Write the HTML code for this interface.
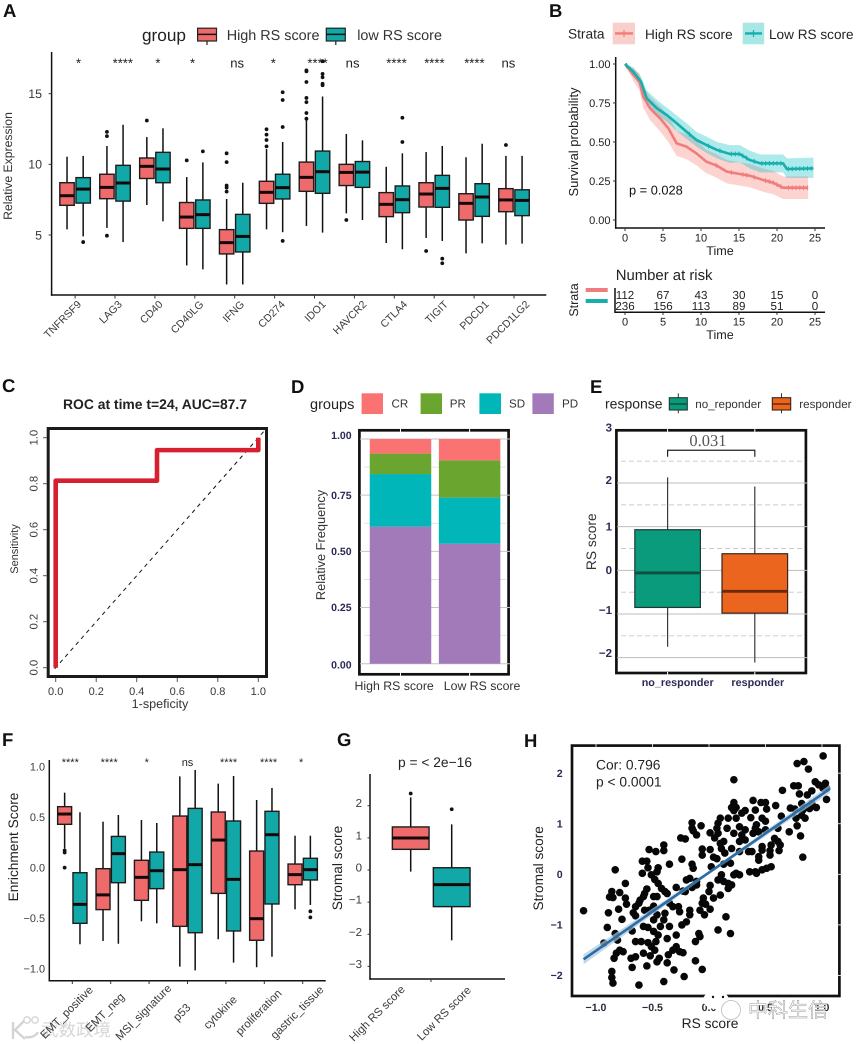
<!DOCTYPE html>
<html lang="en">
<head>
<meta charset="utf-8">
<title>RS score multi-panel figure</title>
<style>
html,body{margin:0;padding:0;background:#fff;}
svg{display:block;font-family:"Liberation Sans","Noto Sans CJK SC",sans-serif;text-rendering:geometricPrecision;}
.pl{font-size:18.5px;font-weight:bold;fill:#111;}
</style>
</head>
<body>
<svg id="fig" xmlns="http://www.w3.org/2000/svg" width="858" height="1044" viewBox="0 0 858 1044">
<rect x="0" y="0" width="858" height="1044" fill="#fff"/>

<text class="pl" x="3" y="17">A</text>
<text class="pl" x="549" y="17">B</text>
<text class="pl" x="2" y="392">C</text>
<text class="pl" x="291" y="393">D</text>
<text class="pl" x="590" y="393">E</text>
<text class="pl" x="2" y="746">F</text>
<text class="pl" x="337" y="746">G</text>
<text class="pl" x="524" y="747">H</text>

<!-- Watermark bottom-left sits under the F labels -->
<g>
  <path d="M13 1022v17M24 1021l-9 9 10 9M25 1037c6 1 11-1 13-5" fill="none" stroke="#d4d4d4" stroke-width="2.4"/>
  <circle cx="27" cy="1020" r="3.2" fill="none" stroke="#d4d4d4" stroke-width="1.4"/>
  <circle cx="35" cy="1020" r="3.2" fill="none" stroke="#d4d4d4" stroke-width="1.4"/>
  <text x="41" y="1036" font-size="17.5" fill="#d6d6d6">武数政境</text>
</g>

<g id="panelA">
  <text transform="translate(12,166) rotate(-90)" text-anchor="middle" font-size="12.2" fill="#333">Relative Expression</text>
  <text x="142" y="41" font-size="17.2" fill="#222">group</text>
  <g>
    <line x1="207" x2="207" y1="41" y2="45" stroke="#222" stroke-width="1.2"/>
    <rect x="197.6" y="28.2" width="18.9" height="12.8" fill="#ef6b6b" stroke="#222" stroke-width="1.2"/>
    <line x1="197.6" x2="216.5" y1="34.4" y2="34.4" stroke="#111" stroke-width="1.5"/>
    <text x="226.7" y="40" font-size="14.4" fill="#333">High RS score</text>
  </g>
  <g>
    <line x1="335.8" x2="335.8" y1="41" y2="45" stroke="#222" stroke-width="1.2"/>
    <rect x="326.3" y="28.2" width="19" height="12.8" fill="#12a8a8" stroke="#222" stroke-width="1.2"/>
    <line x1="326.3" x2="345.3" y1="34.4" y2="34.4" stroke="#111" stroke-width="1.5"/>
    <text x="357.2" y="40" font-size="14.4" fill="#333">low RS score</text>
  </g>
</g>

<g id="panelB">
  <text x="568" y="38.5" font-size="13.7" fill="#222">Strata</text>
  <rect x="612.7" y="22.7" width="22.3" height="21.6" fill="#f9cfcb"/>
  <line x1="615" x2="633" y1="33.4" y2="33.4" stroke="#ef7d7d" stroke-width="2.4"/>
  <line x1="624" x2="624" y1="30" y2="37" stroke="#ef7d7d" stroke-width="1.2"/>
  <text x="645" y="39" font-size="13.6" fill="#222">High RS score</text>
  <rect x="742.7" y="22.7" width="21.5" height="21.6" fill="#a9e6e6"/>
  <line x1="745" x2="762" y1="33.4" y2="33.4" stroke="#17aeac" stroke-width="2.4"/>
  <line x1="753.5" x2="753.5" y1="30" y2="37" stroke="#17aeac" stroke-width="1.2"/>
  <text x="769" y="39" font-size="13.6" fill="#222">Low RS score</text>
  <text transform="translate(578,142) rotate(-90)" text-anchor="middle" font-size="13" fill="#222">Survival probability</text>
  <text x="720" y="255" text-anchor="middle" font-size="12.6" fill="#222">Time</text>
  <text x="629" y="194.3" font-size="12.8" fill="#111">p = 0.028</text>
  <text x="615.7" y="280" font-size="14.9" fill="#222">Number at risk</text>
  <text transform="translate(578,300) rotate(-90)" text-anchor="middle" font-size="12.5" fill="#222">Strata</text>
  <line x1="585.7" x2="607.7" y1="290" y2="290" stroke="#ef7d7d" stroke-width="4"/>
  <line x1="585.7" x2="607.7" y1="301" y2="301" stroke="#17aeac" stroke-width="4"/>
  <text x="720" y="339" text-anchor="middle" font-size="12.6" fill="#222">Time</text>
</g>

<g id="panelC">
  <text x="155" y="409" text-anchor="middle" font-size="13.9" font-weight="bold" fill="#222">ROC at time t=24, AUC=87.7</text>
  <text transform="translate(18,549) rotate(-90)" text-anchor="middle" font-size="11" fill="#333">Sensitivity</text>
  <text x="160" y="708" text-anchor="middle" font-size="12.6" fill="#333">1-speficity</text>
</g>

<g id="panelD">
  <text x="310" y="409" font-size="14.5" fill="#222">groups</text>
  <rect x="361.6" y="393.3" width="21.4" height="20.7" fill="#fb7272"/>
  <text x="391.5" y="407.7" font-size="11.6" fill="#333">CR</text>
  <rect x="420.6" y="393.3" width="21.4" height="20.7" fill="#6aa530"/>
  <text x="449.8" y="407.7" font-size="11.6" fill="#333">PR</text>
  <rect x="479.4" y="393.3" width="21.6" height="20.7" fill="#00b6b8"/>
  <text x="509" y="407.7" font-size="11.6" fill="#333">SD</text>
  <rect x="532.4" y="393.3" width="21.4" height="20.7" fill="#a27ab9"/>
  <text x="562" y="407.7" font-size="11.6" fill="#333">PD</text>
  <text transform="translate(325,545) rotate(-90)" text-anchor="middle" font-size="12.8" fill="#333">Relative Frequency</text>
</g>

<g id="panelE">
  <text x="605" y="408.3" font-size="14" fill="#222">response</text>
  <line x1="678.3" x2="678.3" y1="393.3" y2="413.3" stroke="#333" stroke-width="1"/>
  <rect x="669.3" y="397.7" width="18" height="12.3" fill="#0a9a7c" stroke="#1f3a33" stroke-width="1.1"/>
  <line x1="669.3" x2="687.3" y1="404" y2="404" stroke="#0e4f3f" stroke-width="1.5"/>
  <text x="695.3" y="408" font-size="11.6" fill="#333">no_reponder</text>
  <line x1="781.5" x2="781.5" y1="393.3" y2="413.3" stroke="#333" stroke-width="1"/>
  <rect x="772.3" y="397.7" width="18.4" height="12.3" fill="#eb651f" stroke="#3a241a" stroke-width="1.1"/>
  <line x1="772.3" x2="790.7" y1="404" y2="404" stroke="#6b2a0d" stroke-width="1.5"/>
  <text x="799.3" y="408" font-size="11.6" fill="#333">responder</text>
  <text transform="translate(596,541.7) rotate(-90)" text-anchor="middle" font-size="13.8" fill="#333">RS score</text>
</g>

<g id="panelF">
  <text transform="translate(18,847) rotate(-90)" text-anchor="middle" font-size="13.7" fill="#222">Enrichment Score</text>
</g>

<g id="panelG">
  <text x="435" y="767" text-anchor="middle" font-size="13.8" fill="#222">p = &lt; 2e−16</text>
  <text transform="translate(342,868) rotate(-90)" text-anchor="middle" font-size="13.7" fill="#222">Stromal score</text>
</g>

<g id="panelH">
  <text transform="translate(543,868.3) rotate(-90)" text-anchor="middle" font-size="13.7" fill="#222">Stromal score</text>
  <text x="710" y="1028" text-anchor="middle" font-size="13.8" fill="#222">RS score</text>
</g>

<g id="wmRight"></g>
</svg>

<script>
/* ---------- Panel A data ---------- */
const aCategories = ['TNFRSF9','LAG3','CD40','CD40LG','IFNG','CD274','IDO1','HAVCR2','CTLA4','TIGIT','PDCD1','PDCD1LG2'];
const aSignificance = ['*','****','*','*','ns','*','****','ns','****','****','****','ns'];
const aYTicks = [5,10,15];
const aHighMin = [5.4,5.5,7.12,2.85,1.5,5.4,5.64,6.53,4.43,4.79,3.7,4.32];
const aHighQ1 = [7.1,7.57,9.0,5.47,3.66,7.24,8.09,8.5,6.3,6.98,6.06,6.65];
const aHighMedian = [7.78,8.37,9.86,6.27,4.46,8.02,9.08,9.43,7.17,7.9,7.24,7.48];
const aHighQ3 = [8.7,9.3,10.45,7.3,5.38,8.8,10.16,10.0,8.0,8.7,7.92,8.28];
const aHighMax = [10.54,11.3,11.93,9.1,7.55,11.08,13.3,12.15,9.83,10.87,10.5,10.6];
const aHighOutliers = [[],[12.3,12.0,4.95],[13.1],[10.28],[10.78,10.16,8.5,8.35,8.07],[12.48,12.1,11.72,11.27],[16.65,16.58,15.83,14.7,14.4,13.63,13.23],[6.06],[],[3.87],[],[11.37]];
const aLowMin = [4.9,4.5,5.97,2.57,1.5,5.2,5.17,6.06,3.99,4.58,4.41,4.39];
const aLowQ1 = [7.26,7.4,8.7,5.47,3.8,7.55,7.95,8.37,6.58,6.96,6.32,6.37];
const aLowMedian = [8.25,8.68,9.67,6.44,4.9,8.35,9.48,9.45,7.5,8.3,7.69,7.45];
const aLowQ3 = [9.06,9.93,10.85,7.48,6.46,9.3,10.94,10.2,8.47,9.22,8.63,8.2];
const aLowMax = [10.6,12.8,12.55,10.14,8.7,11.58,14.8,11.7,10.78,11.3,11.46,10.6];
const aLowOutliers = [[4.5],[],[],[10.92],[],[15.1,14.55,12.64,4.58],[17.3,16.4,16.16,15.7,15.6],[],[13.3,11.58],[3.33,3.0],[],[]];

/* ---------- Panel B data ---------- */
const bXTicks = [0,5,10,15,20,25];
const bYTicks = [0,0.25,0.5,0.75,1];
const bHighTime = [0,1.1,1.9,2.4,3.3,4.6,5.7,6.8,8.1,9.4,10.7,12.1,13.4,15.1,16.4,18.2,19.5,20.8,24.1];
const bHighSurv = [1,0.93,0.887,0.79,0.716,0.652,0.588,0.491,0.47,0.427,0.374,0.348,0.31,0.295,0.284,0.256,0.239,0.207,0.207];
const bHighLower = [1,0.89,0.83,0.72,0.64,0.57,0.5,0.41,0.39,0.35,0.3,0.27,0.235,0.22,0.21,0.18,0.165,0.135,0.135];
const bHighUpper = [1,0.97,0.94,0.86,0.79,0.73,0.67,0.57,0.55,0.51,0.45,0.42,0.385,0.37,0.36,0.33,0.315,0.28,0.28];
const bHighCensor = [0.2,12,14,15.5,16,17,18.5,19,19.5,20,20.5,21.5,22,22.5,23,23.5,24];
const bLowTime = [0,1.1,2.1,2.85,4.2,5.5,6.8,8.1,9.4,10.7,12.1,13.8,15.1,16.4,17.8,19.5,20.8,21.3,24.8];
const bLowSurv = [1,0.95,0.887,0.78,0.716,0.673,0.62,0.566,0.513,0.481,0.449,0.423,0.423,0.385,0.363,0.363,0.363,0.327,0.331];
const bLowLower = [1,0.92,0.85,0.73,0.67,0.63,0.57,0.52,0.47,0.43,0.395,0.365,0.37,0.33,0.305,0.305,0.305,0.27,0.27];
const bLowUpper = [1,0.98,0.92,0.83,0.77,0.72,0.67,0.62,0.565,0.535,0.5,0.48,0.48,0.445,0.42,0.42,0.42,0.395,0.4];
const bLowCensor = [0.2,8.5,11,12.5,14,14.5,15,15.5,16,17,18,18.5,19,19.5,20,20.5,21.5,22,22.5,23,23.5,24,24.5];
const bRiskHigh = [112,67,43,30,15,0];
const bRiskLow = [236,156,113,89,51,0];

/* ---------- Panel C data ---------- */
const cFpr = [0,0,0.5,0.5,1,1];
const cTpr = [0,0.813,0.813,0.946,0.946,1];
const cTicks = [0,0.2,0.4,0.6,0.8,1];

/* ---------- Panel D data ---------- */
const dCategories = ['High RS score','Low RS score'];
const dPD = [0.61,0.534];
const dSD = [0.234,0.205];
const dPR = [0.091,0.166];
const dCR = [0.065,0.095];
const dTicks = [0,0.25,0.5,0.75,1];
const dTickLabels = ['0.00','0.25','0.50','0.75','1.00'];

/* ---------- Panel E data ---------- */
const eCategories = ['no_responder','responder'];
const eMin = [-1.75,-2.11];
const eQ1 = [-0.85,-0.98];
const eMedian = [-0.06,-0.48];
const eQ3 = [0.93,0.38];
const eMax = [2.13,1.92];
const eMajorTicks = [3,2,1,0,-1,-2];
const eMinorTicks = [2.5,1.5,0.5,-0.5,-1.5];
const ePValue = '0.031';
const eBracketLevel = 2.75;

/* ---------- Panel F data ---------- */
const fCategories = ['EMT_positive','EMT_neg','MSI_signature','p53','cytokine','proliferation','gastric_tissue'];
const fSignificance = ['****','****','*','ns','****','****','*'];
const fYTicks = [-1,-0.5,0,0.5,1];
const fHighMin = [0.19,-0.727,-0.532,-0.982,-0.71,-0.988,-0.413];
const fHighQ1 = [0.43,-0.416,-0.324,-0.582,-0.255,-0.72,-0.169];
const fHighMedian = [0.532,-0.27,-0.096,-0.02,0.274,-0.506,-0.069];
const fHighQ3 = [0.605,-0.01,0.073,0.512,0.552,0.165,0.036];
const fHighMax = [0.744,0.456,0.473,0.906,0.833,0.671,0.317];
const fHighOutliers = [[0.17,0.15,0.0],[],[],[],[],[],[]];
const fLowMin = [-0.76,-0.754,-0.552,-1.018,-0.942,-0.883,-0.37];
const fLowQ1 = [-0.552,-0.149,-0.208,-0.645,-0.628,-0.36,-0.122];
const fLowMedian = [-0.364,0.139,-0.03,0.03,-0.116,0.327,-0.02];
const fLowQ3 = [-0.05,0.31,0.155,0.588,0.463,0.559,0.093];
const fLowMax = [0.55,0.522,0.443,0.969,0.909,0.79,0.317];
const fLowOutliers = [[],[],[],[],[],[],[-0.433,-0.493]];

/* ---------- Panel G data ---------- */
const gCategories = ['High RS score','Low RS score'];
const gYTicks = [-3,-2,-1,0,1,2];
const gMin = [-0.05,-2.19];
const gQ1 = [0.643,-1.14];
const gMedian = [0.996,-0.456];
const gQ3 = [1.34,0.07];
const gMax = [2.26,1.42];
const gOutliers = [[2.38],[1.89]];

/* ---------- Panel H data ---------- */
const hRS = [1.01,0.78,0.84,0.88,0.22,0.94,0.75,0.79,0.97,1.03,1.04,0.65,0.80,0.91,0.87,1.01,0.39,0.22,0.46,0.50,0.59,0.20,0.24,0.72,0.76,0.82,0.91,1.04,0.95,0.32,0.41,0.51,0.29,0.22,0.64,0.83,0.89,0.82,0.85,0.77,0.78,0.71,0.81,0.83,
0.10,0.17,0.24,0.37,-0.15,-0.07,0.08,0.07,0.16,0.47,0.50,0.61,0.42,0.41,0.44,0.27,0.32,-0.15,-0.14,-0.11,0.01,0.08,0.22,0.29,0.39,0.50,-0.25,-0.21,0.05,0.13,0.27,0.32,0.58,0.61,0.63,0.10,0.47,0.55,0.01,-0.06,0.11,0.20,0.27,0.35,0.38,0.47,0.54,-0.06,0.04,0.07,0.14,0.54,0.44,0.62,-0.40,-0.53,-0.47,-0.40,-0.24,
0.44,-0.59,-0.55,-0.35,-0.45,-0.15,-0.14,0.02,0.13,0.19,0.55,0.51,0.47,0.41,0.36,0.42,-0.54,-0.83,-0.59,-0.51,-0.46,0.24,0.27,0.22,-0.17,-0.11,0.11,0.08,0.13,0.17,0.20,-0.74,-0.48,-0.45,0.01,0.17,-0.29,-0.20,-0.11,-0.15,-0.55,-0.42,-0.39,-0.79,-0.86,-0.23,-0.57,-0.49,-0.37,0,-0.88,-0.85,-0.74,-0.46,-0.21,-0.58,-0.61,0.10,0.04,-0.05,-0.06,-0.03,-0.73,-0.62,-0.65,-0.57,-0.35,-0.32,-0.27,-0.89,-0.80,-1.11,-0.53,-0.49,-0.17,-0.08,0.01,-0.04,-0.17,0.15,-0.67,-0.65,-0.39,-0.77,-0.46,-0.26,-0.20,-0.24,-0.49,-0.40,-0.90,-0.58,-0.54,-0.35,-0.43,0.08,0.19,-0.09,-0.68,-0.83,-0.49,-0.45,-0.08,-0.12,-0.37,-0.29,-0.93,-0.81,-0.65,-0.60,-0.54,-0.47,-0.29,-0.32,-0.79,-0.76,-0.84,-0.82,-0.58,-0.51,-0.48,-0.36,-0.26,-0.23,-0.69,-0.65,-0.52,-0.44,-0.46,-0.37,-0.12,-0.68,-0.55,-0.31,-0.06,-0.86,-0.86,-0.85,-0.62,-0.40,-0.22];
const hStromal = [2.34,2.19,2.23,2.08,1.87,1.83,1.75,1.75,1.77,1.80,1.70,1.66,1.59,1.65,1.57,1.70,1.46,1.42,1.42,1.42,1.36,1.32,1.32,1.31,1.29,1.40,1.40,1.48,1.32,1.26,1.27,1.29,1.21,1.26,1.15,1.27,1.30,1.17,1.11,1.11,0.96,0.84,0.76,0.34,
1.11,1.11,1.11,1.12,1.02,0.96,1.01,0.91,0.91,1.11,1.05,0.91,0.98,0.91,0.84,0.94,0.88,0.91,0.86,0.78,0.82,0.81,0.81,0.78,0.81,0.88,0.72,0.70,0.72,0.65,0.65,0.68,0.71,0.65,0.58,0.61,0.55,0.58,0.49,0.50,0.51,0.51,0.45,0.45,0.45,0.48,0.47,0.38,0.34,0.31,0.42,0.38,0.35,0.47,0.58,0.49,0.45,0.47,0.30,
0.28,0.26,0.26,0.20,0.13,0.20,0.12,0.15,0.20,0.22,0.15,0.12,0.09,0.05,0.05,0.02,0.13,0.09,0.02,-0.01,0.05,0.02,-0.01,-0.01,-0.08,-0.14,-0.01,-0.11,-0.14,-0.18,-0.21,-0.18,-0.10,-0.18,-0.22,-0.28,-0.26,-0.11,-0.21,-0.26,-0.29,-0.28,-0.34,-0.36,-0.34,-0.33,-0.38,-0.44,-0.38,-0.34,-0.45,-0.46,-0.47,-0.44,-0.34,-0.44,-0.51,-0.41,-0.47,-0.47,-0.57,-0.59,-0.59,-0.57,-0.64,-0.71,-0.57,-0.64,-0.64,-0.76,-0.69,-0.72,-0.71,-0.63,-0.71,-0.71,-0.69,-0.80,-0.80,-0.84,-0.76,-0.82,-0.77,-0.89,-0.80,-0.74,-0.94,-1.00,-0.90,-0.90,-1.05,-1.03,-1.05,-1.03,-1.03,-1.10,-1.17,-1.17,-1.12,-1.17,-1.13,-1.20,-1.23,-1.33,-1.27,-1.20,-1.36,-1.30,-1.33,-1.33,-1.35,-1.33,-1.43,-1.50,-1.50,-1.53,-1.66,-1.56,-1.56,-1.43,-1.50,-1.59,-1.53,-1.55,-1.66,-1.63,-1.61,-1.66,-1.73,-1.75,-1.71,-1.84,-1.81,-1.89,-1.88,-1.92,-2.04,-2.15,-2.19,-2.12,-2.02];
const hFitX = [-1.11,0,1.07];
const hFitY = [-1.68,0.036,1.69];
const hFitSE = [0.1,0.03,0.08];
const hXTicks = [-1,-0.5,0,0.5,1];
const hXTickLabels = ['−1.0','−0.5','0.0','0.5','1.0'];
const hYTicks = [-2,-1,0,1,2];

/* ---------- helpers ---------- */
const NS = 'http://www.w3.org/2000/svg';
function mk(tag, attrs, parent, txt){
  const el = document.createElementNS(NS, tag);
  for (const k in attrs) el.setAttribute(k, attrs[k]);
  if (txt !== undefined) el.textContent = txt;
  parent.appendChild(el);
  return el;
}
const minus = v => String(v).replace('-', '−');
const RED = '#ef6b6b', TEAL = '#12a8a8', AXIS = '#111', LABEL = '#3a3a3a', NAVY = '#2a2a55';

function drawBox(parent, cx, w, s, y, fill, st){
  const wh = mk('line',{x1:cx,x2:cx,y1:y(s.max),y2:y(s.min),stroke:st.whisker,'stroke-width':st.wsw},parent);
  
  
  const r = mk('rect',{x:cx-w/2,y:y(s.q3),width:w,height:y(s.q1)-y(s.q3),fill:fill,stroke:st.border,'stroke-width':st.bsw},parent);
  
  
  const m = mk('line',{x1:cx-w/2,x2:cx+w/2,y1:y(s.med),y2:y(s.med),stroke:st.median,'stroke-width':st.msw},parent);
  
  
  (s.out||[]).forEach(v=>{
    const c = mk('circle',{cx:cx,cy:y(v),r:st.or,fill:'#111'},parent);
    
    
  });
}
const boxStyle = {whisker:'#111',wsw:1.5,border:'#1c1c1c',bsw:1.4,median:'#160808',msw:3,or:1.9};

function axisLine(parent,x1,y1,x2,y2,sw){
  const l = mk('line',{x1:x1,y1:y1,x2:x2,y2:y2,stroke:AXIS,'stroke-width':sw||1.5},parent);
  
  
}
function tick(parent,x1,y1,x2,y2,color){
  const l = mk('line',{x1:x1,y1:y1,x2:x2,y2:y2,stroke:color||'#333','stroke-width':1},parent);
  
  
}
function label(parent,x,y,txt,size,anchor,fill,weight,name){
  const t = mk('text',{x:x,y:y,'font-size':size,'text-anchor':anchor||'middle',fill:fill||LABEL,'font-weight':weight||'normal'},parent,txt);
  
  
  return t;
}
function rotLabel(parent,x,y,txt,size,anchor,deg,fill,name){
  const t = mk('text',{transform:'translate('+x+','+y+') rotate('+deg+')',x:0,y:0,'font-size':size,'text-anchor':anchor,fill:fill||LABEL},parent,txt);
  
  
  return t;
}

/* ---------- Panel A ---------- */
(function(){
  const g = document.getElementById('panelA');
  const x = i => 75.1 + 39.9*i;
  const y = v => 235 - (v-5)*14.13;
  const off = 8.07, w = 14.4;
  axisLine(g,51.6,52,51.6,295.7);
  axisLine(g,50.9,295,546.3,295);
  aYTicks.forEach(v=>{
    tick(g,48.6,y(v),51.6,y(v));
    label(g,42,y(v)+4.3,String(v),12.4,'end');
  });
  const sigNudge = [3.5,7.8,3,-2.2,2.5,-1.3,3.1,-1.8,2.2,0.2,0.3,-5.6];
  aCategories.forEach((c,i)=>{
    tick(g,x(i),295,x(i),298.5);
    rotLabel(g,x(i)+6.8+0.85*i,305,c,10.6,'end',-45);
    drawBox(g,x(i)-off,w,{min:aHighMin[i],q1:aHighQ1[i],med:aHighMedian[i],q3:aHighQ3[i],max:aHighMax[i],out:aHighOutliers[i]},y,RED,boxStyle);
    drawBox(g,x(i)+off,w,{min:aLowMin[i],q1:aLowQ1[i],med:aLowMedian[i],q3:aLowQ3[i],max:aLowMax[i],out:aLowOutliers[i]},y,TEAL,boxStyle);
    label(g,x(i)+sigNudge[i],67.5,aSignificance[i],13.1,'middle','#222','normal','significance-label');
  });
})();

/* ---------- Panel B ---------- */
(function(){
  const g = document.getElementById('panelB');
  const x = t => 625 + 7.6*t;
  const y = s => 220 - 156*s;
  const ribbon = (t,up,lo)=>{
    let d='';
    t.forEach((v,i)=>{ d+=(i?'L':'M')+x(v)+' '+y(up[i]); });
    for(let i=t.length-1;i>=0;i--){ d+='L'+x(t[i])+' '+y(lo[i]); }
    return d+'Z';
  };
  const line = (t,s)=> t.map((v,i)=>(i?'L':'M')+x(v)+' '+y(s[i])).join('');
  const survAt = (t,s,q)=>{
    for(let i=1;i<t.length;i++){ if(q<=t[i]){ const f=(q-t[i-1])/(t[i]-t[i-1]); return s[i-1]+f*(s[i]-s[i-1]); } }
    return s[s.length-1];
  };
  const ribH = mk('path',{d:ribbon(bHighTime,bHighUpper,bHighLower),fill:'#f8766d','fill-opacity':0.32},g);
  
  
  const ribL = mk('path',{d:ribbon(bLowTime,bLowUpper,bLowLower),fill:'#00bfc4','fill-opacity':0.32},g);
  
  
  const cH = mk('path',{d:line(bHighTime,bHighSurv),fill:'none',stroke:'#ef7d7d','stroke-width':2.6},g);
  
  
  const cL = mk('path',{d:line(bLowTime,bLowSurv),fill:'none',stroke:'#17aeac','stroke-width':2.6},g);
  
  
  bHighCensor.forEach(t=>{
    const m = mk('line',{x1:x(t),x2:x(t),y1:y(survAt(bHighTime,bHighSurv,t))-2.4,y2:y(survAt(bHighTime,bHighSurv,t))+2.4,stroke:'#ef7d7d','stroke-width':1},g);
    
    
  });
  bLowCensor.forEach(t=>{
    const m = mk('line',{x1:x(t),x2:x(t),y1:y(survAt(bLowTime,bLowSurv,t))-2.4,y2:y(survAt(bLowTime,bLowSurv,t))+2.4,stroke:'#17aeac','stroke-width':1},g);
    
    
  });
  axisLine(g,615.7,57,615.7,228.8);
  axisLine(g,615,228,825,228);
  bYTicks.forEach(v=>{
    tick(g,613,y(v),615.7,y(v));
    label(g,610.5,y(v)+3.9,v.toFixed(2),11,'end','#222');
  });
  bXTicks.forEach((t,i)=>{
    tick(g,x(t),228,x(t),231);
    label(g,x(t),241.7,String(t),11,'middle','#222');
    label(g,x(t),299,String(bRiskHigh[i]),11.6,'middle','#222','normal','risk-count-high');
    label(g,x(t),310,String(bRiskLow[i]),11.6,'middle','#222','normal','risk-count-low');
    tick(g,x(t),312.3,x(t),315);
    label(g,x(t),325.3,String(t),11,'middle','#222');
  });
  axisLine(g,615,288,615,313);
  axisLine(g,614.5,312.3,825,312.3);
})();

/* ---------- Panel C ---------- */
(function(){
  const g = document.getElementById('panelC');
  const x = v => 55.7 + 202.6*v;
  const y = v => 667.7 - 230*v;
  cTicks.forEach(v=>{
    tick(g,x(v),678,x(v),682,'#555');
    label(g,x(v),695,v.toFixed(1),11,'middle');
    tick(g,43,y(v),46.7,y(v),'#555');
    rotLabel(g,37.5,y(v),v.toFixed(1),11.3,'middle',-90);
  });
  const diag = mk('line',{x1:x(-0.005),y1:y(-0.005),x2:x(1.035),y2:y(1.035),stroke:'#111','stroke-width':1,'stroke-dasharray':'4 4'},g);
  
  
  const d = cFpr.map((v,i)=>(i?'L':'M')+x(v)+' '+y(cTpr[i])).join('');
  const roc = mk('path',{d:d,fill:'none',stroke:'#d6202f','stroke-width':4.6,'stroke-linejoin':'round'},g);
  
  
  const b = mk('rect',{x:48.2,y:428.5,width:218.3,height:248,fill:'none',stroke:'#1a1a1a','stroke-width':3},g);
  
  
})();

/* ---------- Panel D ---------- */
(function(){
  const g = document.getElementById('panelD');
  const y = v => 663.7 - 224.7*v;
  const xc = [400.5,469.6], bw = 61.5;
  const b = mk('rect',{x:359.4,y:430.3,width:149.2,height:244,fill:'none',stroke:'#111','stroke-width':2.7},g);
  
  
  dTicks.forEach((v,i)=>{
    const l = mk('line',{x1:360,x2:510.5,y1:y(v),y2:y(v),stroke:'#c4c4c4','stroke-width':1},g);
    
    
    label(g,351.6,y(v)+(v===1?0:3.6)+(v===0?1:0),dTickLabels[i],10.5,'end',NAVY,'bold');
    if(i<dTicks.length-1){
      const mv=(dTicks[i]+dTicks[i+1])/2;
      const n = mk('line',{x1:364,x2:506,y1:y(mv),y2:y(mv),stroke:'#ddd','stroke-width':0.8},g);
      
      
    }
  });
  const lay = [['pd',dPD,'#a27ab9'],['sd',dSD,'#00b6b8'],['pr',dPR,'#6aa530'],['cr',dCR,'#fb7272']];
  dCategories.forEach((c,i)=>{
    let cum=0;
    lay.forEach(s=>{
      const v=s[1][i];
      const r = mk('rect',{x:xc[i]-bw/2,y:y(cum+v),width:bw,height:y(cum)-y(cum+v),fill:s[2]},g);
      
      
      cum+=v;
    });
    const n1 = mk('line',{x1:xc[i],x2:xc[i],y1:429,y2:432,stroke:'#fff','stroke-width':1},g);
    
    
    const n2 = mk('line',{x1:xc[i],x2:xc[i],y1:673,y2:676,stroke:'#fff','stroke-width':1},g);
    
    
  });
  label(g,354.5,690,dCategories[0],12.3,'start','#333');
  label(g,443.8,690,dCategories[1],12.3,'start','#333');
})();

/* ---------- Panel E ---------- */
(function(){
  const g = document.getElementById('panelE');
  const y = v => 570.33 - 43.67*v;
  const xc = [667.6,754.8], bw = 65.6;
  eMinorTicks.forEach(v=>{
    const n = mk('line',{x1:621,x2:804,y1:y(v),y2:y(v),stroke:'#c8c8c8','stroke-width':0.9,'stroke-dasharray':'5 3'},g);
    
    
  });
  const b = mk('rect',{x:616.4,y:430.3,width:189.5,height:242.7,fill:'none',stroke:'#111','stroke-width':2.7},g);
  
  
  const labelNudge = {'3':-11.6,'2':-3,'1':0,'0':0,'-1':-4,'-2':-4.4};
  eMajorTicks.forEach(v=>{
    if(v<3){
      const l = mk('line',{x1:617,x2:807.2,y1:y(v),y2:y(v),stroke:'#bdbdbd','stroke-width':1},g);
      
      
    }
    label(g,612,y(v)+labelNudge[v]+3.8,minus(v),11.5,'end',NAVY,'bold');
  });
  const fills=['#0a9a7c','#eb651f'], meds=['#0e4f3f','#6b2a0d'], bords=['#1f3a33','#3a241a'];
  eCategories.forEach((c,i)=>{
    drawBox(g,xc[i],bw,{min:eMin[i],q1:eQ1[i],med:eMedian[i],q3:eQ3[i],max:eMax[i]},y,fills[i],
      {whisker:'#3a3a3a',wsw:1.2,border:bords[i],bsw:1.2,median:meds[i],msw:2.8,or:1.7});
    const n1 = mk('line',{x1:xc[i],x2:xc[i],y1:429,y2:432,stroke:'#fff','stroke-width':1},g);
    
    
    const n2 = mk('line',{x1:xc[i],x2:xc[i],y1:672,y2:675,stroke:'#fff','stroke-width':1},g);
    
    
  });
  label(g,641.7,686,eCategories[0],10.8,'start',NAVY,'bold');
  label(g,731.4,686,eCategories[1],10.8,'start',NAVY,'bold');
  const br = mk('path',{d:'M'+xc[0]+' '+(y(eBracketLevel)+6.5)+'V'+y(eBracketLevel)+'H'+xc[1]+'V'+(y(eBracketLevel)+6.5),fill:'none',stroke:'#222','stroke-width':1.2},g);
  
  
  const pv = mk('text',{x:707.9,y:446,'text-anchor':'middle','font-size':16.5,fill:'#555','font-family':'"Liberation Serif",serif'},g,ePValue);
  
  
})();

/* ---------- Panel F ---------- */
(function(){
  const g = document.getElementById('panelF');
  const x = i => 72.3 + 38.4*i;
  const y = v => 867.67 - 100.83*v;
  const off = 7.67, w = 14;
  axisLine(g,49.3,760,49.3,981.4);
  axisLine(g,48.6,980.7,325.7,980.7);
  fYTicks.forEach(v=>{
    label(g,45,y(v)+3.9,minus(v.toFixed(1)),10.9,'end');
  });
  const sigNudge = [-2,-1.5,-2.3,0,2.7,4.3,-1.5];
  fCategories.forEach((c,i)=>{
    tick(g,x(i),980.7,x(i),984);
    rotLabel(g,x(i)-3,1015,c,11.4,'middle',-45);
    drawBox(g,x(i)-off,w,{min:fHighMin[i],q1:fHighQ1[i],med:fHighMedian[i],q3:fHighQ3[i],max:fHighMax[i],out:fHighOutliers[i]},y,RED,boxStyle);
    drawBox(g,x(i)+off,w,{min:fLowMin[i],q1:fLowQ1[i],med:fLowMedian[i],q3:fLowQ3[i],max:fLowMax[i],out:fLowOutliers[i]},y,TEAL,boxStyle);
    label(g,x(i)+sigNudge[i],766,fSignificance[i],11,'middle','#222','normal','significance-label');
  });
})();

/* ---------- Panel G ---------- */
(function(){
  const g = document.getElementById('panelG');
  const y = v => 870 - 32.13*v;
  const xc = [410.7,451.7], bw = 36.7, colors=[RED,TEAL], labelNudge=[-31,-5];
  axisLine(g,370,774,370,979.7);
  axisLine(g,369.3,979,505,979);
  gYTicks.forEach(v=>{
    tick(g,367.5,y(v),370,y(v));
    label(g,362,y(v)+1.5,minus(v),11.5,'end');
  });
  tick(g,431,979,431,982);
  gCategories.forEach((c,i)=>{
    drawBox(g,xc[i],bw,{min:gMin[i],q1:gQ1[i],med:gMedian[i],q3:gQ3[i],max:gMax[i],out:gOutliers[i]},y,colors[i],boxStyle);
    rotLabel(g,xc[i]+labelNudge[i],1016,c,11.4,'middle',-45);
  });
})();

/* ---------- Panel H ---------- */
(function(){
  const g = document.getElementById('panelH');
  const x = v => 709 + 113*v;
  const y = v => 874.33 - 50.58*v;
  hRS.forEach((v,i)=>{
    const p = mk('circle',{cx:x(v),cy:y(hStromal[i]),r:3.8,fill:'#070707'},g);
    
    
  });
  let up='', lo='';
  hFitX.forEach((v,i)=>{ up+=(i?'L':'M')+x(v)+' '+y(hFitY[i]+hFitSE[i]); });
  for(let i=hFitX.length-1;i>=0;i--){ lo+='L'+x(hFitX[i])+' '+y(hFitY[i]-hFitSE[i]); }
  const band = mk('path',{d:up+lo+'Z',fill:'#a9c9e3','fill-opacity':0.7},g);
  
  
  const fit = mk('path',{d:hFitX.map((v,i)=>(i?'L':'M')+x(v)+' '+y(hFitY[i])).join(''),fill:'none',stroke:'#2b6ca3','stroke-width':2.6},g);
  
  
  const b = mk('rect',{x:572,y:745.6,width:267.4,height:250.4,fill:'none',stroke:'#111','stroke-width':2.7},g);
  
  
  hYTicks.forEach(v=>{
    label(g,562.7,y(v)+3.7,minus(v),10.6,'end',NAVY,'bold');
    const n = mk('line',{x1:838,x2:841,y1:y(v),y2:y(v),stroke:'#fff','stroke-width':0.8},g);
    
    
  });
  hXTicks.forEach((v,i)=>{
    label(g,x(v),1011,hXTickLabels[i],10.6,'middle','#2a2a3a','bold');
    const n = mk('line',{x1:x(v),x2:x(v),y1:744,y2:747,stroke:'#fff','stroke-width':0.8},g);
    
    
  });
  const c1 = mk('text',{x:596,y:769.3,'font-size':13.8,fill:'#222'},g,'Cor: 0.796');
  
  
  const c2 = mk('text',{x:596,y:786.7,'font-size':13.8,fill:'#222'},g,'p < 0.0001');
  
  
})();

/* ---------- Right watermark ---------- */
(function(){
  const g = document.getElementById('wmRight');
  const e1 = mk('ellipse',{cx:716,cy:1000,rx:13,ry:9,fill:'#fff'},g);
  
  
  const d1 = mk('circle',{cx:713,cy:997,r:1.2,fill:'#111'},g);
  
  
  const d2 = mk('circle',{cx:723,cy:997,r:1.2,fill:'#111'},g);
  
  
  const e2 = mk('circle',{cx:731,cy:1010,r:9.5,fill:'#fff',stroke:'#bbb','stroke-width':0.8},g);
  
  
  const t = mk('text',{x:748,y:1017,'font-size':20,fill:'#fff',stroke:'#9a9a9a','stroke-width':0.5},g,'中科生信');
  
  
})();
</script>
</body>
</html>
